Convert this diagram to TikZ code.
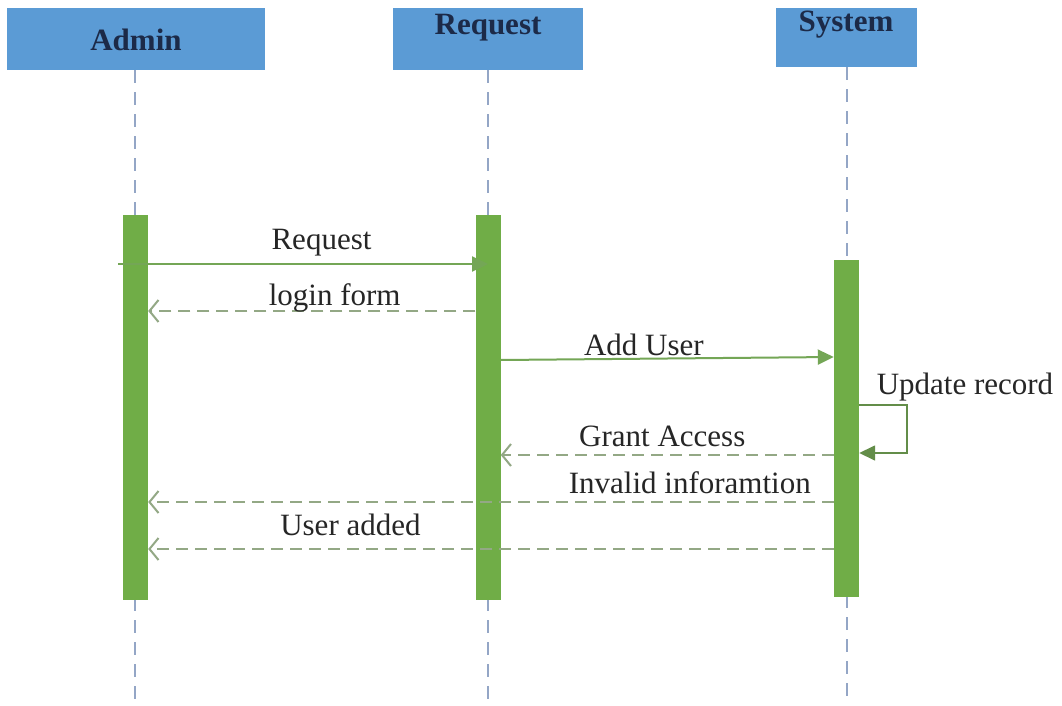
\documentclass[tikz,border=0pt]{standalone}
\usepackage{fontspec}
\setmainfont{Liberation Serif}
\usetikzlibrary{arrows.meta,calc,positioning}
\definecolor{headblue}{HTML}{5B9BD5}
\definecolor{headtext}{HTML}{1C2A48}
\definecolor{bargreen}{HTML}{70AD47}
\definecolor{msggreen}{HTML}{74A656}
\definecolor{replygray}{HTML}{93A885}
\definecolor{lifegray}{HTML}{94A6C6}
\tikzset{
  head/.style={fill=headblue, inner sep=0pt},
  headlabel/.style={font=\fontsize{31}{36}\selectfont\bfseries, text=headtext},
  bar/.style={fill=bargreen, minimum width=25pt, inner sep=0pt},
  life/.style={lifegray, line width=1.5pt, dash pattern=on 13pt off 9pt},
  call/.style={msggreen, line width=2pt, -{Triangle[length=16pt,width=15pt]}},
  selfcall/.style={msggreen!85!black, line width=1.6pt, -{Triangle[length=16pt,width=15pt]}},
  reply/.style={replygray, line width=2pt, dash pattern=on 12pt off 7pt, -{Straight Barb[length=9pt,width=22pt]}},
  lbl/.style={font=\fontsize{31}{36}\selectfont, text=black!85}
}

\begin{document}
\begin{tikzpicture}[x=1pt,y=-1pt]
\fill[white] (0,0) rectangle (1062,706);
\useasboundingbox (0,0) rectangle (1062,706);
% heads
\node[head, minimum width=258pt, minimum height=62pt] (A) at (136,39) {};
\node[head, minimum width=190pt, minimum height=62pt] (R) at (488,39) {};
\node[head, minimum width=141pt, minimum height=59pt] (S) at (846.5,37.5) {};
\node[headlabel] (At) at (136,40) {Admin};
\node[headlabel] (Rt) at (488,28) {Request};
\node[headlabel] (St) at (846,25) {System};
% lifelines
\coordinate (Ae) at (135,700);
\coordinate (Re) at (488,700);
\coordinate (Se) at (847,700);
\draw[life] (A.south -| Ae) -- (Ae);
\draw[life] (R.south -| Re) -- (Re);
\draw[life] (S.south -| Se) -- (Se);
% activations
\node[bar, minimum height=385pt] (a) at (135.5,407.5) {};
\node[bar, minimum height=385pt] (r) at (488,407.5) {};
\node[bar, minimum height=337pt] (s) at (846.5,428.5) {};
% messages
\coordinate (q0) at (118,264);
\draw[call] (q0) -- node[lbl, pos=.55, yshift=21pt] {Request} (r.center |- q0);
\draw[reply] (r.west |- 0,311) -- node[lbl, pos=.43, yshift=13pt] {login form} (a.east |- 0,311);
\draw[call] (r.east |- 0,360) -- node[lbl, pos=.43, yshift=14pt] {Add User} (s.west |- 0,357);
\coordinate (u1) at (907,405);
\coordinate (u2) at (907,453);
\draw[selfcall] (s.east |- u1) -- (u1) node[lbl, xshift=58pt, yshift=18pt] {Update record} -- (u2) -- (s.east |- u2);
\draw[reply] (s.west |- 0,455) -- node[lbl, pos=.515, yshift=19pt] {Grant Access} (r.east |- 0,455);
\draw[reply] (s.west |- 0,502) -- node[lbl, pos=.21, yshift=19pt] {Invalid inforamtion} (a.east |- 0,502);
\draw[reply] (s.west |- 0,549) -- node[lbl, pos=.705, yshift=24pt] {User added} (a.east |- 0,549);
\end{tikzpicture}
\end{document}
